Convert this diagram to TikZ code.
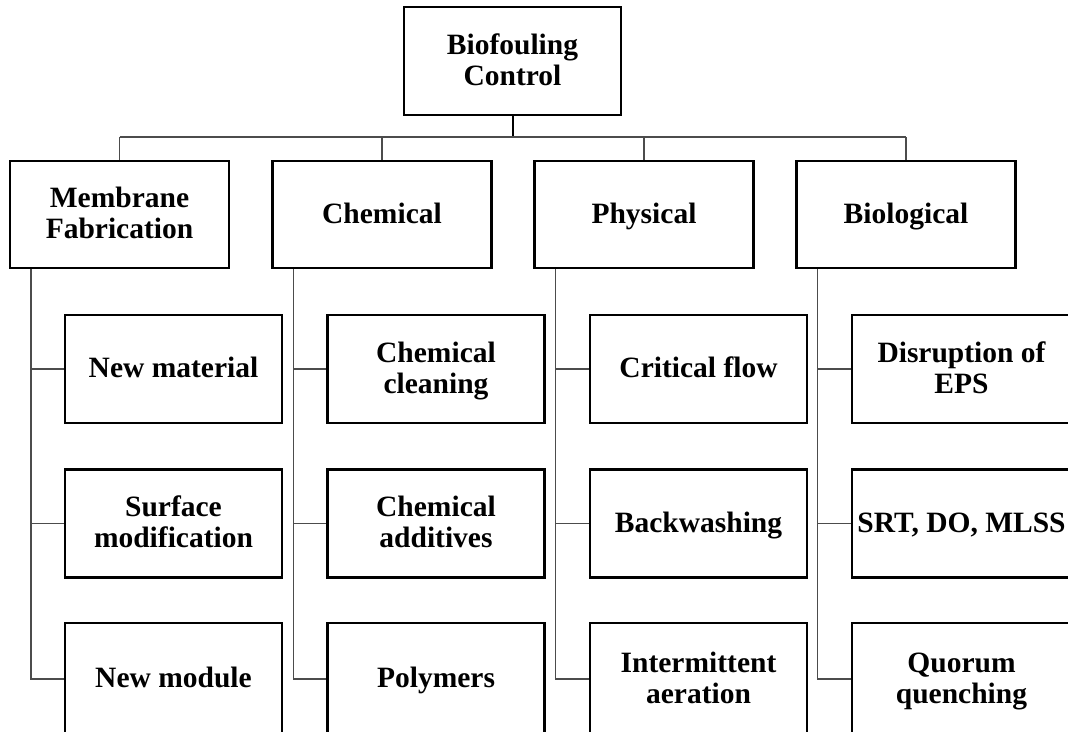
\documentclass[tikz,border=0pt]{standalone}
\usepackage{fontspec}
\setmainfont{Liberation Serif}
\usetikzlibrary{calc}
% line strut: 24pt above the baseline, 7pt below, so every label sits alike
\newcommand\lstr{\rule[-7pt]{0pt}{31pt}}
\begin{document}
\begin{tikzpicture}[x=1pt,y=-1pt,
  box/.style={draw=black, line width=2.7pt, fill=white,
    minimum width=217pt, minimum height=108pt, inner sep=0pt,
    align=center, font=\fontsize{29.5}{31}\selectfont\bfseries},
  headbox/.style={box, minimum width=219pt, minimum height=107pt},
  lastbox/.style={box, minimum height=112pt},
  link/.style={draw=black!70, line width=1.5pt},
  trunk/.style={draw=black, line width=2pt}]
\useasboundingbox (0,0) rectangle (1068,731);
\clip (0,0) rectangle (1068,731);

% root
\node[box] (root) at (512.5,61) {\lstr Biofouling\\\lstr Control};
\coordinate (bus) at (0,137);

% main branches
\node[headbox] (mem) at (119.5,214.5) {\lstr Membrane\\\lstr Fabrication};
\node[headbox] (che) at (382,214.5) {\lstr Chemical};
\node[headbox] (phy) at (644,214.5) {\lstr Physical};
\node[headbox] (bio) at (906,214.5) {\lstr Biological};

% leaves
\node[box] (mem1) at (173.5,369) {\lstr New material};
\node[box] (mem2) at (173.5,523.5) {\lstr Surface\\\lstr modification};
\node[lastbox] (mem3) at (173.5,679) {\lstr New module};

\node[box] (che1) at (436,369) {\lstr Chemical\\\lstr cleaning};
\node[box] (che2) at (436,523.5) {\lstr Chemical\\\lstr additives};
\node[lastbox] (che3) at (436,679) {\lstr Polymers};

\node[box] (phy1) at (698.5,369) {\lstr Critical flow};
\node[box] (phy2) at (698.5,523.5) {\lstr Backwashing};
\node[lastbox] (phy3) at (698.5,679) {\lstr Intermittent\\\lstr aeration};

\node[box, minimum width=219pt] (bio1) at (961.5,369) {\lstr Disruption of\\\lstr EPS};
\node[box, minimum width=219pt] (bio2) at (961.5,523.5) {\lstr SRT, DO, MLSS};
\node[lastbox, minimum width=219pt] (bio3) at (961.5,679) {\lstr Quorum\\\lstr quenching};

% root to bus
\draw[trunk] (root.south) -- (root.south |- bus);
\draw[link] (mem.north |- bus) -- (bio.north |- bus);
\foreach \n in {mem,che,phy,bio}{
  \draw[link] (\n.north |- bus) -- (\n.north);
}

% spines with stubs to leaves
\foreach \n in {mem,che,phy,bio}{
  \coordinate (\n s) at ($(\n.south west)+(22.5,0)$);
  \draw[link] (\n s) |- (\n 3.west);
  \draw[link] (\n s |- \n 1.west) -- (\n 1.west);
  \draw[link] (\n s |- \n 2.west) -- (\n 2.west);
}
\end{tikzpicture}
\end{document}
